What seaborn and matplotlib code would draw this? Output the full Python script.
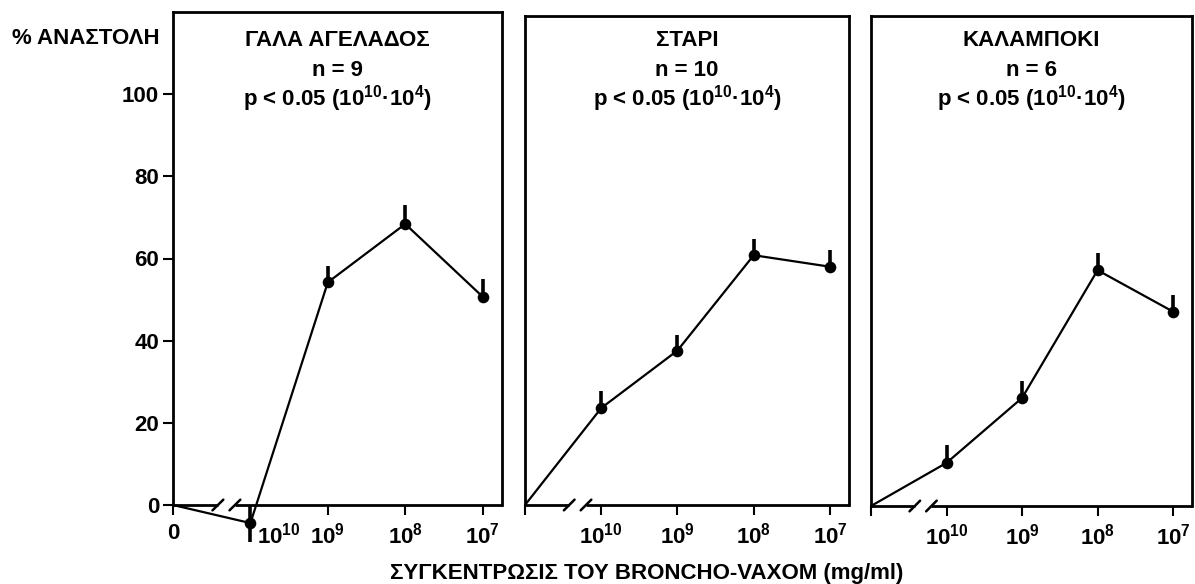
import numpy as np
import pandas as pd
import matplotlib
matplotlib.use("Agg")
import matplotlib.pyplot as plt
import matplotlib.transforms as mtransforms
import seaborn as sns

# ---------------- data ----------------
positions = [0, 1, 2, 3, 4]
tick_labels = ["0", r"10$^{10}$", r"10$^{9}$", r"10$^{8}$", r"10$^{7}$"]

titles = ["ΓΑΛΑ ΑΓΕΛΑΔΟΣ", "ΣΤΑΡΙ", "ΚΑΛΑΜΠΟΚΙ"]
n_labels = ["n = 9", "n = 10", "n = 6"]
p_label = r"p < 0.05 (10$^{10}$·10$^{4}$)"

milk = [0, -4.4, 54.2, 68.4, 50.7]
milk_err_up = [0, 4.4, 4.0, 4.6, 4.2]
milk_err_lo = [0, 4.6, 0, 0, 0]

wheat = [0, 23.6, 37.6, 60.8, 58.0]
wheat_err_up = [0, 4.1, 3.9, 4.0, 4.1]
wheat_err_lo = [0, 0, 0, 0, 0]

corn = [0, 10.5, 26.3, 57.4, 47.3]
corn_err_up = [0, 4.3, 4.2, 4.3, 4.1]
corn_err_lo = [0, 0, 0, 0, 0]

y_ticks = [0, 20, 40, 60, 80, 100]
y_label = "% ΑΝΑΣΤΟΛΗ"
x_label = "ΣΥΓΚΕΝΤΡΩΣΙΣ ΤΟΥ BRONCHO-VAXOM (mg/ml)"

series = [(milk, milk_err_lo, milk_err_up),
          (wheat, wheat_err_lo, wheat_err_up),
          (corn, corn_err_lo, corn_err_up)]

# ---------------- style ----------------
sns.set_style("ticks")
plt.rcParams["font.family"] = ["Liberation Sans", "DejaVu Sans"]
plt.rcParams["font.weight"] = "bold"
plt.rcParams["text.color"] = "black"
plt.rcParams["axes.labelcolor"] = "black"
plt.rcParams["xtick.color"] = "black"
plt.rcParams["ytick.color"] = "black"
plt.rcParams["mathtext.fontset"] = "custom"
plt.rcParams["mathtext.rm"] = "Liberation Sans:bold"
plt.rcParams["mathtext.bf"] = "Liberation Sans:bold"
plt.rcParams["mathtext.it"] = "Liberation Sans:bold"
plt.rcParams["mathtext.default"] = "rm"

FS = 16
W, H = 1195, 584
fig = plt.figure(figsize=(W / 100, H / 100), dpi=100)

# axes boxes in pixels: (left, right, top, bottom)
boxes = [(173, 502, 12, 505), (525, 849, 16, 505), (871, 1192, 16, 506)]
XMAX = 4.25
SPINE_LW = 2.0
TICK_LEN, TICK_PAD = 7, 6

for i, ((l, r, t, b), (vals, elo, eup)) in enumerate(zip(boxes, series)):
    ax = fig.add_axes([l / W, (H - b) / H, (r - l) / W, (b - t) / H])
    ax.set_xlim(0, XMAX)
    ymax = 120 if i == 0 else 120 * (b - t) / 493
    ax.set_ylim(0, ymax)

    df = pd.DataFrame({"x": positions, "y": vals})
    sns.lineplot(data=df, x="x", y="y", ax=ax, color="black", lw=1.6,
                 clip_on=False, zorder=3)
    pts = df.iloc[1:]
    ax.errorbar(pts["x"], pts["y"], yerr=[elo[1:], eup[1:]], fmt="none",
                ecolor="black", elinewidth=2.6, capsize=0, clip_on=False,
                zorder=4)
    sns.scatterplot(data=pts, x="x", y="y", ax=ax, color="black", s=70,
                    edgecolor="black", linewidth=0, clip_on=False, zorder=5)

    # spines and broken x axis
    for s in ["left", "right", "top"]:
        ax.spines[s].set_linewidth(SPINE_LW)
        ax.spines[s].set_color("black")
    ax.spines["bottom"].set_visible(False)
    b1, b2 = 0.58, 0.80
    ax.plot([0, b1], [0, 0], color="black", lw=SPINE_LW, clip_on=False,
            solid_capstyle="butt", zorder=2)
    ax.plot([b2, XMAX], [0, 0], color="black", lw=SPINE_LW, clip_on=False,
            solid_capstyle="butt", zorder=2)
    for c in (b1, b2):
        ax.plot([c - 0.07, c + 0.07], [-1.3, 1.3], color="black", lw=1.8,
                clip_on=False, zorder=2)

    ax.set_xlabel("")
    ax.set_ylabel("")
    ax.set_xticks(positions)
    if i == 0:
        # the 10^10 label sits to the right of its tick (point overlaps it)
        ax.set_xticklabels([tick_labels[0], ""] + tick_labels[2:],
                           fontsize=FS, fontweight="bold")
        ax.annotate(tick_labels[1], xy=(positions[1], 0),
                    xycoords=("data", "axes fraction"),
                    xytext=(5, -(TICK_LEN + TICK_PAD)),
                    textcoords="offset points", ha="left", va="top",
                    fontsize=FS, fontweight="bold", annotation_clip=False)
        ax.set_yticks(y_ticks)
        ax.set_yticklabels([str(v) for v in y_ticks], fontsize=FS,
                           fontweight="bold")
        ax.tick_params(axis="y", length=7, width=1.5, pad=3)
    else:
        ax.set_xticklabels([""] + tick_labels[1:], fontsize=FS,
                           fontweight="bold")
        ax.set_yticks([])
    ax.tick_params(axis="x", length=TICK_LEN, width=1.5, pad=TICK_PAD)

    tr = mtransforms.blended_transform_factory(ax.transAxes, fig.transFigure)
    ax.text(0.5, 1 - 41 / H, titles[i], transform=tr, ha="center",
            va="center", fontsize=FS, fontweight="bold")
    ax.text(0.5, 1 - 71 / H, n_labels[i], transform=tr, ha="center",
            va="center", fontsize=FS, fontweight="bold")
    ax.text(0.5, 1 - 99 / H, p_label, transform=tr, ha="center",
            va="center", fontsize=FS, fontweight="bold")

fig.text(12 / W, 1 - 38 / H, y_label, ha="left", va="center", fontsize=FS,
         fontweight="bold")
fig.text(647 / W, 1 - 574 / H, x_label, ha="center", va="center",
         fontsize=FS, fontweight="bold")

fig.savefig("out.png", dpi=100, facecolor="white")
